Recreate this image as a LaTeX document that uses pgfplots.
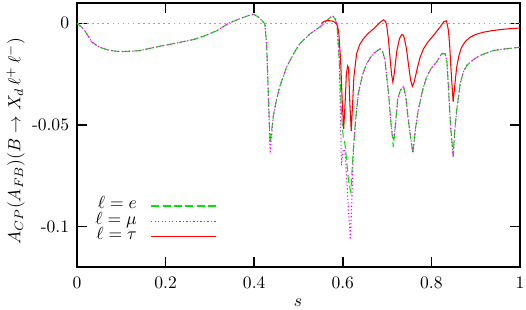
\documentclass[border=0pt]{standalone}
\usepackage{pgfplots}
\pgfplotsset{compat=1.18}
\definecolor{cgreen}{RGB}{0,230,0}
\definecolor{cmag}{RGB}{255,0,255}
\definecolor{cred}{RGB}{255,0,0}
\begin{document}
\begin{tikzpicture}
\begin{axis}[
  name=ax, at={(0,0)}, anchor=south west,
  scale only axis, width=252.7pt, height=150.6pt,
  xmin=0, xmax=1, ymin=-0.12, ymax=0.01,
  xtick={0,0.2,0.4,0.6,0.8,1}, xticklabels={0,0.2,0.4,0.6,0.8,1},
  ytick={-0.1,-0.05,0}, yticklabels={-0.1,-0.05,0},
  tick align=inside, major tick length=5.7pt,
  axis line style={line width=0.8pt}, every tick/.style={line width=0.8pt, black},
  xticklabel style={yshift=-2pt},
  yticklabel style={xshift=-1pt},
  xlabel={$s$}, ylabel={$A_{CP}(A_{FB})(B\to X_d\,\ell^+\,\ell^-)$},
  xlabel style={at={(axis description cs:0.499,-0.136)}, anchor=center},
  ylabel style={at={(axis description cs:-0.1385,0.477)}, anchor=center},
  legend plot pos=right, legend cell align=right,
  legend image code/.code={\draw[#1] (0pt,0pt) -- (37pt,0pt);},
  legend style={draw=none, fill=none, inner sep=0pt, at={(rel axis cs:0.316,0.174)}, anchor=east,
    column sep=8pt, row sep=0pt, nodes={inner sep=0pt, text height=6pt, text depth=2.6pt}},
]
\addplot[forget plot, black!35, line width=0.9pt, dash pattern=on 0.9pt off 2pt] coordinates {(0,0) (1,0)};
% l = e
\addplot[cgreen, line width=0.6pt, dash pattern=on 4.5pt off 2pt] coordinates {
(0,0) (0.015,-0.0027) (0.034,-0.0093) (0.05,-0.0117) (0.068,-0.0130) (0.085,-0.0137) (0.105,-0.0139)
(0.14,-0.0135) (0.187,-0.0113) (0.23,-0.0095) (0.263,-0.0080) (0.29,-0.0060) (0.316,-0.0036)
(0.342,0.0) (0.37,0.0025) (0.39,0.0040) (0.398,0.0045) (0.41,0.0030) (0.418,0.0012) (0.424,-0.0003)
(0.428,-0.010) (0.432,-0.035) (0.436,-0.059) (0.443,-0.046) (0.45,-0.038) (0.458,-0.031)
(0.473,-0.0216) (0.49,-0.0145) (0.503,-0.0101) (0.526,-0.0052) (0.55,-0.0015) (0.565,0.0015)
(0.577,0.0038) (0.583,0.0020) (0.587,-0.001) (0.592,-0.018)
(0.597,-0.045) (0.601,-0.056) (0.604,-0.058) (0.608,-0.066) (0.613,-0.078) (0.618,-0.083)
(0.622,-0.068) (0.628,-0.050) (0.635,-0.0345)
(0.645,-0.025) (0.654,-0.0198) (0.668,-0.015) (0.684,-0.0126) (0.69,-0.014) (0.695,-0.018)
(0.703,-0.034) (0.709,-0.050) (0.714,-0.061) (0.718,-0.052) (0.724,-0.037) (0.730,-0.033)
(0.737,-0.031) (0.742,-0.036) (0.748,-0.048) (0.758,-0.064) (0.764,-0.052) (0.770,-0.043)
(0.78,-0.033) (0.789,-0.0265) (0.80,-0.022) (0.812,-0.019) (0.823,-0.015) (0.831,-0.015)
(0.835,-0.019) (0.838,-0.030) (0.843,-0.050) (0.849,-0.065) (0.853,-0.052) (0.857,-0.043)
(0.865,-0.0297) (0.872,-0.024) (0.880,-0.0207) (0.895,-0.0178) (0.910,-0.0158) (0.94,-0.0134)
(0.97,-0.0125) (1.0,-0.0118)};
\addlegendentry{$\ell = e$}
% l = mu
\addplot[cmag, line width=0.6pt, dash pattern=on 0.7pt off 1.3pt] coordinates {
(0,0) (0.015,-0.0027) (0.034,-0.0093) (0.05,-0.0117) (0.068,-0.0130) (0.085,-0.0137) (0.105,-0.0139)
(0.14,-0.0135) (0.187,-0.0113) (0.23,-0.0095) (0.263,-0.0080) (0.29,-0.0060) (0.316,-0.0036)
(0.342,0.0) (0.37,0.0025) (0.39,0.0040) (0.398,0.0045) (0.41,0.0030) (0.418,0.0012) (0.424,-0.0003)
(0.428,-0.010) (0.432,-0.037) (0.436,-0.064) (0.443,-0.046) (0.45,-0.038) (0.458,-0.031)
(0.473,-0.0216) (0.49,-0.0145) (0.503,-0.0101) (0.526,-0.0052) (0.55,-0.0015) (0.565,0.0015)
(0.577,0.0038) (0.583,0.0020) (0.587,-0.001) (0.592,-0.018)
(0.597,-0.070) (0.601,-0.062) (0.605,-0.063) (0.611,-0.085) (0.617,-0.1065) (0.620,-0.090)
(0.624,-0.062) (0.630,-0.045) (0.635,-0.0345)
(0.645,-0.025) (0.654,-0.0198) (0.668,-0.015) (0.684,-0.0126) (0.69,-0.014) (0.695,-0.018)
(0.703,-0.034) (0.709,-0.050) (0.714,-0.0575) (0.718,-0.052) (0.724,-0.037) (0.730,-0.033)
(0.737,-0.031) (0.742,-0.036) (0.748,-0.048) (0.758,-0.064) (0.764,-0.052) (0.770,-0.043)
(0.78,-0.033) (0.789,-0.0265) (0.80,-0.022) (0.812,-0.019) (0.823,-0.015) (0.831,-0.015)
(0.835,-0.019) (0.838,-0.030) (0.843,-0.050) (0.849,-0.066) (0.853,-0.052) (0.857,-0.043)
(0.865,-0.0297) (0.872,-0.024) (0.880,-0.0207) (0.895,-0.0178) (0.910,-0.0158) (0.94,-0.0134)
(0.97,-0.0125) (1.0,-0.0118)};
\addlegendentry{$\ell = \mu$}
% l = tau
\addplot[cred, line width=0.6pt] coordinates {
(0.552,0.0) (0.558,0.0010) (0.564,0.0013) (0.575,0.0012) (0.582,0.0005) (0.588,-0.001)
(0.591,-0.005) (0.595,-0.018) (0.599,-0.040) (0.602,-0.052) (0.605,-0.040) (0.608,-0.025)
(0.611,-0.021) (0.613,-0.022) (0.616,-0.040) (0.619,-0.053) (0.622,-0.040) (0.625,-0.0265)
(0.631,-0.015) (0.638,-0.0105) (0.646,-0.0077) (0.657,-0.005) (0.669,-0.0028) (0.684,0.0005)
(0.692,0.0017) (0.696,0.0010) (0.699,-0.001) (0.703,-0.008) (0.707,-0.018) (0.710,-0.025)
(0.713,-0.029) (0.716,-0.025) (0.722,-0.0134) (0.728,-0.0075) (0.733,-0.0055) (0.737,-0.006)
(0.740,-0.0085) (0.744,-0.013) (0.748,-0.020) (0.753,-0.028) (0.757,-0.031) (0.761,-0.029)
(0.767,-0.0232) (0.774,-0.017) (0.782,-0.0126) (0.791,-0.0095) (0.801,-0.0069) (0.81,-0.0045)
(0.819,-0.002) (0.828,0.0008) (0.834,0.0012) (0.838,-0.003) (0.841,-0.010) (0.844,-0.022)
(0.849,-0.0387) (0.853,-0.030) (0.857,-0.0216) (0.862,-0.016) (0.868,-0.0118) (0.877,-0.0088)
(0.887,-0.0069) (0.90,-0.0055) (0.917,-0.0044) (0.935,-0.0037) (0.955,-0.0031) (0.975,-0.0027)
(1.0,-0.0023)};
\addlegendentry{$\ell = \tau$}
\end{axis}
\pgfresetboundingbox
\path[use as bounding box] (-43.9pt,-24.5pt) rectangle (256.1pt,152.3pt);
\end{tikzpicture}
\end{document}
